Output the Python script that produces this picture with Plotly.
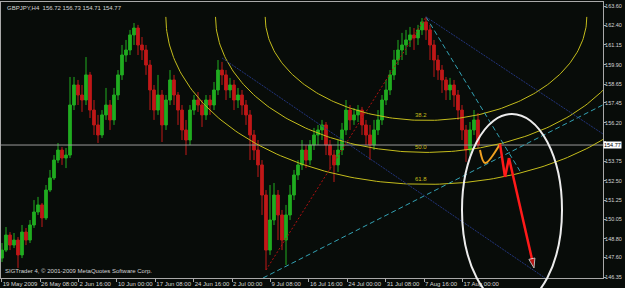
import math
import plotly.graph_objects as go

# ---------------- data ----------------
symbol_title = "GBPJPY,H4  156.72 156.73 154.71 154.77"
copyright_text = "SIGTrader 4, \u00a9 2001-2009 MetaQuotes Software Corp."

first_open = 147.56
closes = [148.07, 149.03, 148.39, 148.71, 147.76, 149.22, 148.71, 149.67, 150.50, 150.95,
          150.12, 151.90, 152.67, 153.81, 154.45, 153.94, 154.13, 157.32, 158.60, 157.96,
          157.64, 159.24, 157.00, 156.05, 155.41, 156.69, 157.32, 156.37, 157.96, 159.24,
          160.51, 160.83, 161.79, 162.23, 161.15, 160.83, 159.87, 158.28, 157.00, 157.96,
          156.05, 157.64, 158.92, 157.96, 157.00, 155.73, 155.09, 157.00, 157.64, 157.32,
          156.69, 157.64, 157.32, 158.28, 159.55, 159.24, 158.28, 158.60, 157.64, 157.96,
          157.32, 156.69, 155.41, 154.45, 153.50, 151.58, 148.07, 149.99, 151.58, 150.31,
          148.71, 150.31, 151.58, 152.86, 153.50, 154.45, 153.81, 154.77, 155.41, 155.73,
          156.05, 154.77, 154.13, 153.50, 154.45, 155.73, 157.00, 156.37, 156.69, 157.00,
          156.05, 155.41, 154.77, 155.73, 156.37, 157.64, 158.28, 159.24, 160.19, 160.83,
          161.15, 161.47, 161.79, 161.60, 162.11, 162.62, 162.11, 161.15, 160.19, 159.55,
          158.92, 158.28, 158.60, 157.96, 157.00, 155.73, 154.45, 155.73, 156.37, 154.77]
highs = [148.52, 149.54, 149.22, 149.16, 148.90, 149.67, 149.48, 149.99, 151.26, 151.46,
         151.07, 152.22, 153.18, 154.13, 154.90, 154.64, 154.58, 159.11, 159.11, 158.92,
         158.60, 160.38, 159.43, 157.64, 156.69, 157.00, 158.41, 157.64, 158.41, 159.55,
         161.15, 161.47, 162.11, 162.55, 162.43, 161.66, 161.15, 160.19, 158.60, 159.24,
         158.28, 157.96, 159.55, 159.24, 158.15, 157.32, 156.37, 157.32, 157.96, 158.15,
         157.64, 157.96, 157.96, 158.79, 160.19, 160.07, 159.55, 159.05, 158.92, 158.41,
         158.28, 157.64, 157.00, 155.73, 155.09, 153.81, 151.90, 152.22, 152.35, 151.90,
         150.63, 150.95, 152.22, 153.18, 153.81, 155.09, 154.77, 155.09, 155.86, 156.05,
         156.37, 156.24, 155.09, 154.45, 155.09, 156.18, 157.64, 157.32, 157.13, 157.32,
         157.20, 156.37, 156.05, 156.37, 157.00, 157.96, 158.92, 159.55, 160.83, 161.47,
         161.92, 162.11, 162.30, 162.23, 162.43, 162.87, 162.94, 162.43, 161.47, 160.51,
         159.87, 159.11, 159.05, 158.92, 158.28, 157.32, 156.05, 156.24, 157.00, 156.81]
lows = [147.31, 147.95, 148.07, 148.20, 146.93, 147.56, 148.39, 148.52, 149.48, 150.31,
        149.54, 149.99, 151.77, 152.54, 153.62, 153.50, 153.30, 153.94, 157.00, 157.32,
        156.88, 157.32, 156.49, 155.41, 154.90, 155.22, 156.37, 155.73, 156.05, 157.64,
        158.92, 160.07, 160.51, 161.15, 160.51, 160.19, 159.24, 157.00, 156.37, 156.69,
        154.96, 155.73, 157.32, 157.32, 156.05, 155.09, 154.13, 154.77, 156.69, 156.88,
        155.92, 156.37, 156.69, 157.00, 157.96, 158.60, 157.64, 157.77, 157.00, 157.13,
        156.69, 156.05, 153.81, 153.81, 152.73, 150.31, 146.80, 147.76, 149.67, 148.71,
        148.07, 147.12, 149.99, 151.26, 152.54, 153.18, 153.30, 153.50, 154.45, 154.77,
        155.09, 154.13, 153.18, 152.41, 153.05, 154.13, 155.41, 155.73, 156.05, 156.24,
        155.41, 154.77, 153.81, 154.45, 155.41, 156.05, 157.32, 157.96, 158.92, 159.87,
        160.19, 160.51, 161.02, 160.83, 161.15, 161.79, 161.47, 160.19, 159.11, 158.92,
        158.09, 157.64, 157.64, 157.20, 156.37, 155.09, 153.69, 154.13, 155.41, 154.58]

bars_per_candle = 10 / 3          # H4 bars covered by each drawn candle
x_tick_vals = [0, 32, 64, 96, 128, 160, 192, 224, 256, 288, 320, 352, 384]
x_tick_text = ["19 May 2009", "26 May 08:00", "2 Jun 16:00", "10 Jun 00:00", "17 Jun 08:00",
               "24 Jun 16:00", "2 Jul 00:00", "9 Jul 08:00", "16 Jul 16:00", "24 Jul 00:00",
               "31 Jul 08:00", "7 Aug 16:00", "17 Aug 00:00"]
y_tick_vals = [163.60, 162.40, 161.15, 159.90, 158.65, 157.45, 156.20, 155.00,
               153.75, 152.50, 151.25, 150.05, 148.80, 147.60, 146.35]
y_hidden_label = 155.00            # covered by the current-price box in the reference
last_price = 154.77

x_range = [-0.58, 501.08]
y_range = [146.29, 163.89]

# analysis objects: anchor points (bar index, price)
fib_line_x = [220.25, 353.58]
fib_line_y = [146.80, 162.94]
fib_levels = [0.382, 0.5, 0.618]
fib_labels = ["38.2", "50.0", "61.8"]
fib_radius_bars = 350.8
fib_radius_price = 17.28

teal_ray_x = [217.75, 402.75]
teal_ray_y = [146.29, 153.50]
teal_seg_x = [353.58, 431.9]
teal_seg_y = [162.94, 153.11]
navy_ray1_x = [353.58, 458.3]
navy_ray1_y = [162.94, 157.64]
navy_ray2_x = [183.6, 452.75]
navy_ray2_y = [160.32, 146.29]

orange_x = [398.58, 402.75, 415.25]
orange_y = [154.45, 153.62, 154.84]
red_x = [415.25, 419.42, 422.75, 443.58]
red_y = [154.84, 152.73, 153.94, 146.93]

ellipse_center = (425.25, 150.63)
ellipse_r_bars = 41.67
ellipse_r_price = 6.12

# ---------------- styles ----------------
BG = "#080c09"
FG = "#d4d4d4"
FRAME = "#a9a9a9"
GREEN = "#20ad20"
RED = "#c01818"
YELLOW = "#c4bd1c"
TEAL = "#33a2b4"
NAVY = "#22347c"
FONT = "Liberation Sans, Arial, sans-serif"

opens = [first_open] + closes[:-1]
cx = [i * bars_per_candle + 0.25 for i in range(len(closes))]

fig = go.Figure()
fig.add_trace(go.Candlestick(
    x=cx, open=opens, high=highs, low=lows, close=closes,
    increasing=dict(line=dict(color=GREEN, width=1), fillcolor=GREEN),
    decreasing=dict(line=dict(color=RED, width=1), fillcolor=RED),
    whiskerwidth=0, hoverinfo="skip"))


def add_line(xs, ys, color, dash, width=1, ray=False):
    xs, ys = list(xs), list(ys)
    if ray:
        m = (ys[1] - ys[0]) / (xs[1] - xs[0])
        xs = [xs[0], x_range[1]]
        ys = [ys[0], ys[0] + m * (x_range[1] - xs[0])]
    fig.add_trace(go.Scatter(x=xs, y=ys, mode="lines", hoverinfo="skip",
                             line=dict(color=color, width=width, dash=dash)))


# current price line
add_line(x_range, [last_price, last_price], "#9a9a9a", "solid")

# fibonacci arcs around the swing high
cxp, cyp = fib_line_x[1], fib_line_y[1]
for lvl in fib_levels:
    ax_, ay_ = [], []
    for k in range(181):
        t = math.pi * k / 180
        ax_.append(cxp - lvl * fib_radius_bars * math.cos(t))
        ay_.append(cyp - lvl * fib_radius_price * math.sin(t))
    fig.add_trace(go.Scatter(x=ax_, y=ay_, mode="lines", hoverinfo="skip",
                             line=dict(color=YELLOW, width=1)))
add_line(fib_line_x, fib_line_y, "#b01010", "2px,2px")

add_line(teal_ray_x, teal_ray_y, TEAL, "5px,3px", ray=True)
add_line(teal_seg_x, teal_seg_y, TEAL, "5px,3px")
add_line(navy_ray1_x, navy_ray1_y, NAVY, "2px,1px", ray=True)
add_line(navy_ray2_x, navy_ray2_y, NAVY, "2px,1px", ray=True)

# forecast paths
fig.add_trace(go.Scatter(x=orange_x, y=orange_y, mode="lines", hoverinfo="skip",
                         line=dict(color="#f0a020", width=2, shape="spline")))
fig.add_trace(go.Scatter(x=red_x, y=red_y, mode="lines+markers", hoverinfo="skip",
                         line=dict(color="#ff1a1a", width=2.5),
                         marker=dict(symbol="arrow", angleref="previous",
                                     size=[0, 0, 0, 10], color="#ff1a1a")))


# white ellipse (paper coords so it may run over the time scale)
def px_(v):
    return (v - x_range[0]) / (x_range[1] - x_range[0])


def py_(v):
    return (v - y_range[0]) / (y_range[1] - y_range[0])


ex, ey = ellipse_center
fig.add_shape(type="circle", xref="paper", yref="paper",
              x0=px_(ex - ellipse_r_bars), x1=px_(ex + ellipse_r_bars),
              y0=py_(ey - ellipse_r_price), y1=py_(ey + ellipse_r_price),
              line=dict(color="#ececec", width=2), layer="above")

annotations = [
    dict(x=0.006, y=0.997, xref="paper", yref="paper", text=symbol_title, showarrow=False,
         xanchor="left", yanchor="top", font=dict(family=FONT, size=6, color=FG)),
    dict(x=0.004, y=0.008, xref="paper", yref="paper", text=copyright_text,
         showarrow=False, xanchor="left", yanchor="bottom",
         font=dict(family=FONT, size=6, color=FG)),
    dict(x=1.0, y=last_price, xref="paper", yref="y", text=f"{last_price:.2f}",
         showarrow=False, xanchor="left", yanchor="middle", bgcolor="#ffffff",
         borderpad=0, font=dict(family=FONT, size=5.5, color="#000000")),
]
for lvl, lab in zip(fib_levels, fib_labels):
    annotations.append(dict(x=cxp - 4, y=cyp - lvl * fib_radius_price, xref="x", yref="y",
                            text=lab, showarrow=False, xanchor="center", yanchor="bottom",
                            font=dict(family=FONT, size=6, color=YELLOW)))

fig.update_layout(
    width=625, height=288, margin=dict(l=1, r=22, t=2, b=10, autoexpand=False),
    paper_bgcolor=BG, plot_bgcolor=BG, showlegend=False, boxgap=0.05,
    annotations=annotations,
    xaxis=dict(range=x_range, tickvals=x_tick_vals, ticktext=x_tick_text, tickangle=0,
               ticks="outside", ticklen=3, tickcolor=FRAME, ticklabelposition="outside right",
               automargin=False, ticklabelstandoff=0,
               showgrid=False, zeroline=False, showline=True, mirror=True,
               linecolor=FRAME, linewidth=1, rangeslider=dict(visible=False),
               tickfont=dict(family=FONT, size=6, color=FG)),
    yaxis=dict(range=y_range, side="right", tickvals=y_tick_vals,
               ticktext=["" if v == y_hidden_label else f"{v:.2f}" for v in y_tick_vals],
               ticks="outside", ticklen=2, tickcolor=FRAME, automargin=False,
               ticklabelstandoff=-2,
               showgrid=False, zeroline=False, showline=True, mirror=True,
               linecolor=FRAME, linewidth=1,
               tickfont=dict(family=FONT, size=5.5, color=FG)),
)

fig.write_html("out.html")
